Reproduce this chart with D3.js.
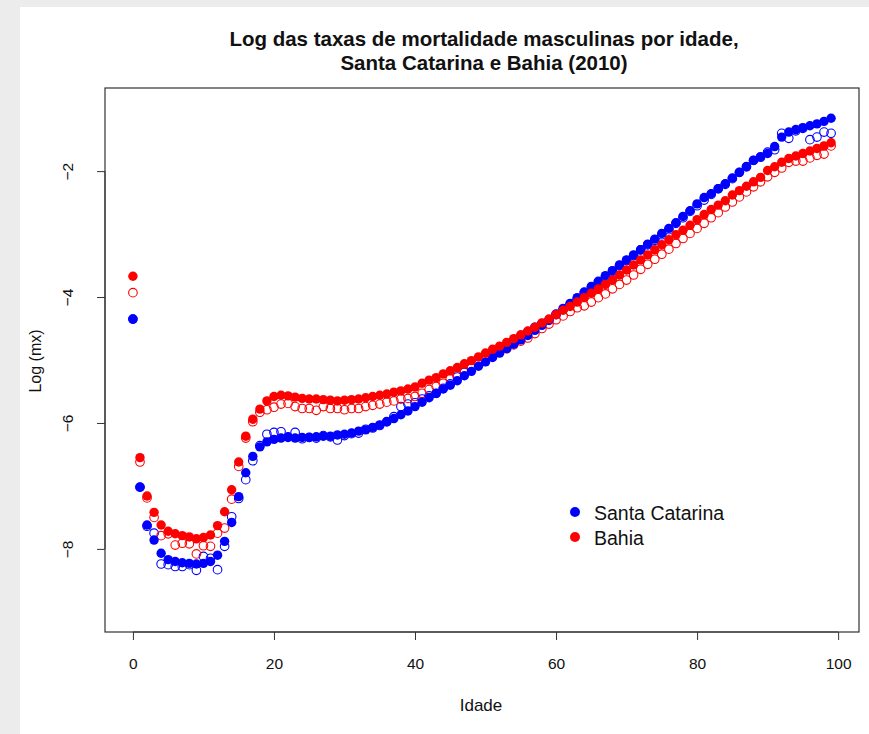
<!DOCTYPE html>
<html>
<head>
<meta charset="utf-8">
<script src="https://cdn.jsdelivr.net/npm/d3@7"></script>
<style>
  html, body { margin: 0; padding: 0; background: #ececec; }
  svg { display: block; }
  text { font-family: "Liberation Sans", Arial, sans-serif; fill: #111; }
</style>
</head>
<body>
<svg id="chart" width="869" height="734"></svg>
<script>
// ---- Data ----
const ages = d3.range(0, 100);
const xTicks = [0, 20, 40, 60, 80, 100];
const yTicks = [-2, -4, -6, -8];
const seriesNames = ["Santa Catarina", "Bahia"];

// Santa Catarina – filled points
const scFilled = [
  -4.35, -7.02, -7.62, -7.86, -8.07, -8.17, -8.20, -8.22, -8.23, -8.24,
  -8.23, -8.20, -8.10, -7.88, -7.58, -7.17, -6.79, -6.53, -6.38, -6.30,
  -6.26, -6.24, -6.23, -6.24, -6.23, -6.23, -6.22, -6.21, -6.21, -6.19,
  -6.18, -6.16, -6.13, -6.11, -6.07, -6.03, -5.98, -5.93, -5.87, -5.81,
  -5.74, -5.67, -5.60, -5.53, -5.46, -5.40, -5.33, -5.25, -5.18, -5.10,
  -5.03, -4.96, -4.89, -4.82, -4.75, -4.68, -4.61, -4.53, -4.45, -4.36,
  -4.27, -4.18, -4.10, -4.01, -3.92, -3.83, -3.75, -3.66, -3.58, -3.49,
  -3.41, -3.33, -3.25, -3.16, -3.08, -2.99, -2.91, -2.82, -2.72, -2.63,
  -2.52, -2.42, -2.36, -2.28, -2.20, -2.11, -2.02, -1.93, -1.83, -1.77,
  -1.72, -1.61, -1.46, -1.38, -1.34, -1.31, -1.28, -1.25, -1.21, -1.16
];
// Santa Catarina – open points
const scOpen = [
  -4.35, -7.02, -7.64, -7.75, -8.24, -8.25, -8.28, -8.28, -8.25, -8.34,
  -8.12, -8.15, -8.33, -7.96, -7.49, -7.20, -6.90, -6.60, -6.36, -6.18,
  -6.15, -6.14, -6.22, -6.15, -6.25, -6.23, -6.24, -6.20, -6.22, -6.27,
  -6.20, -6.17, -6.16, -6.10, -6.08, -6.04, -5.98, -5.90, -5.74, -5.70,
  -5.68, -5.62, -5.57, -5.53, -5.45, -5.38, -5.27, -5.20, -5.12, -5.04,
  -4.96, -4.89, -4.83, -4.76, -4.69, -4.62, -4.55, -4.48, -4.42, -4.37,
  -4.28, -4.20, -4.11, -4.03, -3.93, -3.86, -3.76, -3.68, -3.59, -3.50,
  -3.42, -3.34, -3.25, -3.17, -3.10, -3.01, -2.93, -2.83, -2.74, -2.64,
  -2.55, -2.46, -2.37, -2.28, -2.21, -2.12, -2.02, -1.93, -1.83, -1.78,
  -1.70, -1.66, -1.40, -1.48, -1.36, -1.32, -1.50, -1.46, -1.38, -1.40
];
// Bahia – filled points
const baFilled = [
  -3.67, -6.55, -7.16, -7.42, -7.62, -7.72, -7.76, -7.79, -7.81, -7.84,
  -7.82, -7.78, -7.63, -7.41, -7.06, -6.62, -6.21, -5.94, -5.78, -5.65,
  -5.58, -5.56, -5.57, -5.59, -5.61, -5.62, -5.62, -5.63, -5.64, -5.65,
  -5.64, -5.63, -5.62, -5.60, -5.58, -5.56, -5.54, -5.51, -5.49, -5.46,
  -5.43, -5.37, -5.32, -5.28, -5.22, -5.17, -5.12, -5.06, -5.01, -4.95,
  -4.89, -4.83, -4.78, -4.72, -4.66, -4.60, -4.54, -4.48, -4.41, -4.35,
  -4.28, -4.21, -4.15, -4.08, -4.01, -3.94, -3.87, -3.80, -3.73, -3.65,
  -3.57, -3.49, -3.41, -3.33, -3.25, -3.17, -3.09, -3.01, -2.94, -2.86,
  -2.77, -2.69, -2.61, -2.54, -2.47, -2.38, -2.31, -2.24, -2.17, -2.10,
  -1.99, -1.93, -1.86, -1.80, -1.76, -1.72, -1.68, -1.64, -1.60, -1.55
];
// Bahia – open points
const baOpen = [
  -3.93, -6.62, -7.19, -7.50, -7.79, -7.76, -7.94, -7.91, -7.92, -8.08,
  -7.95, -7.96, -7.75, -7.67, -7.21, -6.69, -6.24, -5.98, -5.83, -5.79,
  -5.75, -5.70, -5.69, -5.74, -5.77, -5.77, -5.80, -5.74, -5.77, -5.77,
  -5.79, -5.77, -5.77, -5.74, -5.72, -5.70, -5.67, -5.65, -5.62, -5.61,
  -5.58, -5.53, -5.47, -5.42, -5.37, -5.30, -5.25, -5.19, -5.13, -5.06,
  -5.00, -4.93, -4.88, -4.82, -4.76, -4.70, -4.65, -4.58, -4.50, -4.43,
  -4.36, -4.30, -4.23, -4.17, -4.14, -4.08, -4.01, -3.95, -3.87, -3.80,
  -3.73, -3.65, -3.56, -3.48, -3.40, -3.32, -3.24, -3.15, -3.07, -2.99,
  -2.91, -2.83, -2.74, -2.66, -2.57, -2.49, -2.41, -2.33, -2.25, -2.17,
  -2.09, -2.02, -1.95, -1.86, -1.84, -1.84, -1.79, -1.75, -1.73, -1.60
];

const BLUE = "#0000ff", RED = "#ff0000";

// ---- Layout ----
const svg = d3.select("#chart");
svg.append("rect").attr("x", 0).attr("y", 0).attr("width", 869).attr("height", 734).attr("fill", "#ececec");
svg.append("rect").attr("x", 20).attr("y", 7).attr("width", 849).attr("height", 727).attr("fill", "#ffffff");

const plot = { left: 105, right: 859, top: 88, bottom: 632 };
const x = d3.scaleLinear().domain([-3.96, 102.96]).range([plot.left, plot.right]);
const y = d3.scaleLinear().domain([-9.32, -0.68]).range([plot.bottom, plot.top]);

// Title
const title = svg.append("text").attr("text-anchor", "middle")
  .style("font-weight", "bold").style("font-size", "20.5px");
title.append("tspan").attr("x", 484).attr("y", 46).text("Log das taxas de mortalidade masculinas por idade,");
title.append("tspan").attr("x", 484).attr("y", 70).text("Santa Catarina e Bahia (2010)");

// Axes
const xAxis = svg.append("g").attr("transform", `translate(0,${plot.bottom})`)
  .call(d3.axisBottom(x).tickValues(xTicks).tickSize(8).tickPadding(18).tickSizeOuter(0));
xAxis.select(".domain").attr("d", `M${x(0)},0H${x(100)}`);
xAxis.selectAll("text").style("font-size", "15.5px").attr("fill", "#111");
xAxis.selectAll("line, path").attr("stroke", "#333");

const yAxis = svg.append("g").attr("transform", `translate(${plot.left},0)`)
  .call(d3.axisLeft(y).tickValues(yTicks).tickSize(8).tickSizeOuter(0).tickFormat(d3.format("d")));
yAxis.select(".domain").attr("d", `M0,${y(-8)}V${y(-2)}`);
yAxis.selectAll("line, path").attr("stroke", "#333");
yAxis.selectAll("text")
  .attr("x", 0).attr("y", -37).attr("dy", "0.35em")
  .attr("transform", "rotate(-90)")
  .attr("text-anchor", "middle")
  .style("font-size", "15.5px").attr("fill", "#111");

// Box
svg.append("rect").attr("x", plot.left).attr("y", plot.top)
  .attr("width", plot.right - plot.left).attr("height", plot.bottom - plot.top)
  .attr("fill", "none").attr("stroke", "#333").attr("stroke-width", 1.2);

// Axis titles
svg.append("text").attr("x", 481).attr("y", 711).attr("text-anchor", "middle")
  .style("font-size", "17px").text("Idade");
svg.append("text").attr("transform", "translate(41,361) rotate(-90)").attr("text-anchor", "middle")
  .style("font-size", "16px").text("Log (mx)");

// Points
const pts = svg.append("g");
function openPts(vals, color) {
  pts.append("g").selectAll("circle").data(ages).join("circle")
    .attr("cx", d => x(d)).attr("cy", d => y(vals[d])).attr("r", 4.3)
    .attr("fill", "none").attr("stroke", color).attr("stroke-width", 1.1);
}
function filledPts(vals, color) {
  pts.append("g").selectAll("circle").data(ages).join("circle")
    .attr("cx", d => x(d)).attr("cy", d => y(vals[d])).attr("r", 4.7)
    .attr("fill", color);
}
openPts(scOpen, BLUE);
openPts(baOpen, RED);
filledPts(scFilled, BLUE);
filledPts(baFilled, RED);

// Legend
const legend = svg.append("g");
[BLUE, RED].forEach((c, i) => {
  legend.append("circle").attr("cx", 575).attr("cy", 512 + i * 25).attr("r", 5).attr("fill", c);
  legend.append("text").attr("x", 594).attr("y", 513 + i * 25).attr("dy", "0.35em")
    .style("font-size", "19.5px").text(seriesNames[i]);
});
</script>
</body>
</html>
